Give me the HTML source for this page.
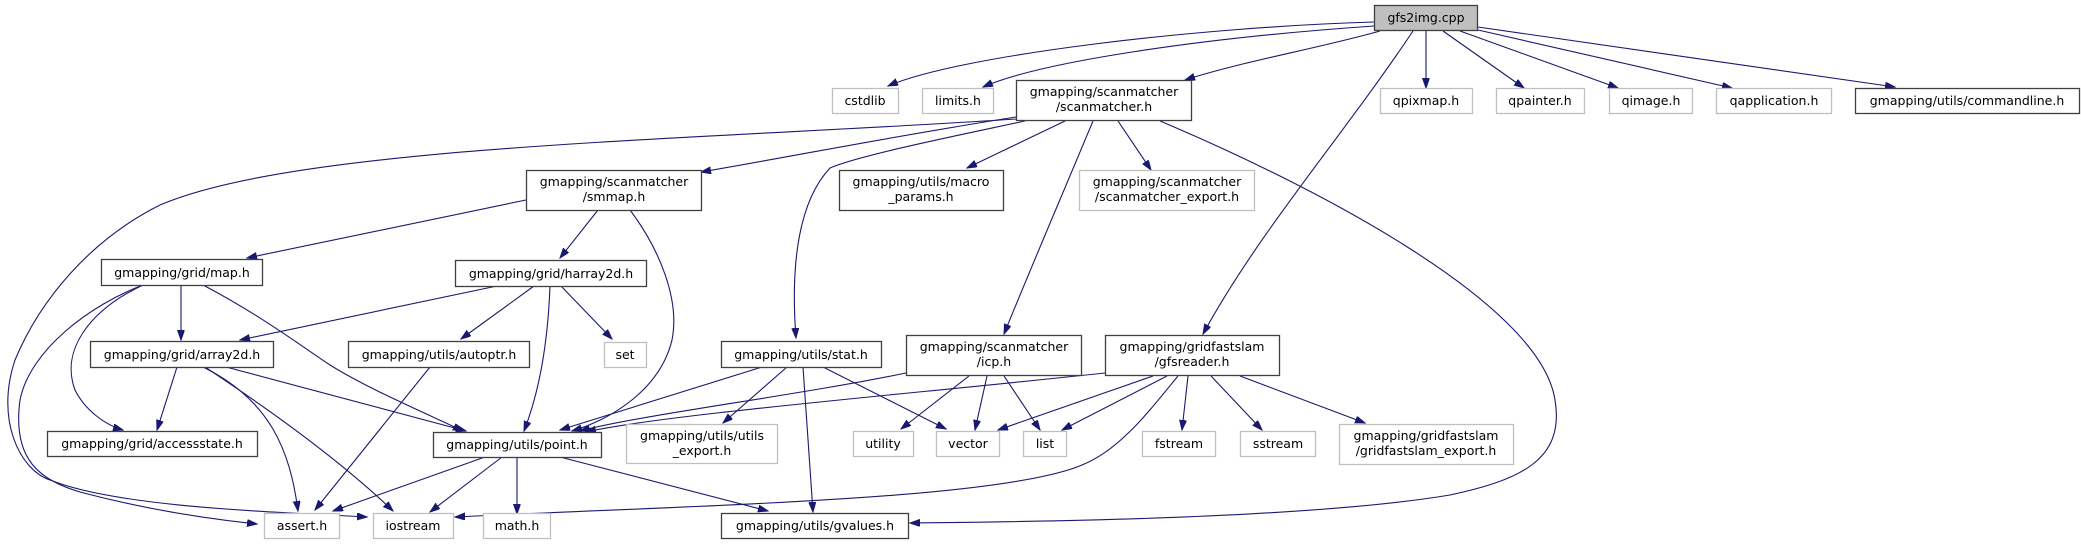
<!DOCTYPE html>
<html><head><meta charset="utf-8"><style>
html,body{margin:0;padding:0;background:#fff;}
svg{display:block;}
text{font-family:"DejaVu Sans","Liberation Sans",sans-serif;font-size:12.5px;fill:#000;text-anchor:middle;}
.b{fill:#fff;stroke:#404040;stroke-width:1.3;}
.g{fill:#fff;stroke:#bfbfbf;stroke-width:1.3;}
.e{fill:none;stroke:#191970;stroke-width:1.1;marker-end:url(#a);}
</style></head><body>
<svg width="2081" height="544" viewBox="0 0 2081 544" xmlns="http://www.w3.org/2000/svg">
<defs><marker id="a" markerUnits="userSpaceOnUse" markerWidth="11" markerHeight="8" refX="10" refY="3.5" orient="auto"><path d="M0,0 L10,3.5 L0,7 z" fill="#191970" stroke="#191970"/></marker></defs>

<!-- edges -->
<path class="e" d="M1374,22 C1200,27 960,55 888,86"/>
<path class="e" d="M1374,26 C1200,38 1040,62 983,87"/>
<path class="e" d="M1380,31 C1320,48 1240,62 1185,80"/>
<path class="e" d="M1413,31 C1340,140 1260,230 1203,334"/>
<path class="e" d="M1426,31 L1426,88"/>
<path class="e" d="M1443,31 L1524,88"/>
<path class="e" d="M1460,31 L1618,88"/>
<path class="e" d="M1478,30 L1732,88"/>
<path class="e" d="M1478,27 L1895,87"/>

<path class="e" d="M1016,119 C700,140 300,145 160,205 C90,240 40,300 15,360 C-5,420 20,470 50,480 C120,508 280,512 367,517"/>
<path class="e" d="M143,285 C90,305 30,350 20,400 C12,460 40,480 80,492 C140,508 200,518 257,524"/>
<path class="e" d="M1016,117 C900,135 800,155 701,172"/>
<path class="e" d="M1025,121 C960,135 860,155 830,168 C800,200 790,260 796,338"/>
<path class="e" d="M1065,121 L967,168"/>
<path class="e" d="M1093,121 C1060,200 1030,270 1004,334"/>
<path class="e" d="M1118,121 L1151,170"/>
<path class="e" d="M1160,121 C1300,180 1540,300 1555,400 C1565,460 1520,480 1450,495 C1300,520 1000,522 910,523"/>

<path class="e" d="M526,200 L247,258"/>
<path class="e" d="M598,210 L560,258"/>
<path class="e" d="M630,210 C660,250 680,300 672,340 C660,390 610,420 572,431"/>

<path class="e" d="M497,286 L240,340"/>
<path class="e" d="M534,286 L461,339"/>
<path class="e" d="M550,286 C548,340 540,390 524,431"/>
<path class="e" d="M561,286 L612,339"/>

<path class="e" d="M181,285 L181,340"/>
<path class="e" d="M203,285 C260,315 300,345 330,365 C370,390 430,415 463,431"/>
<path class="e" d="M143,285 C90,310 60,350 75,390 C85,410 105,425 123,430"/>

<path class="e" d="M177,367 L157,430"/>
<path class="e" d="M203,367 C270,400 290,450 298,511"/>
<path class="e" d="M205,367 C270,410 340,460 393,511"/>
<path class="e" d="M226,367 L466,431"/>
<path class="e" d="M430,367 L315,510"/>

<path class="e" d="M485,457 L333,511"/>
<path class="e" d="M502,457 L430,512"/>
<path class="e" d="M517,457 L517,514"/>
<path class="e" d="M560,457 L768,511"/>

<path class="e" d="M762,367 L560,430"/>
<path class="e" d="M787,367 L723,423"/>
<path class="e" d="M803,367 L813,512"/>
<path class="e" d="M823,367 L946,429"/>

<path class="e" d="M906,373 C800,395 640,415 580,431"/>
<path class="e" d="M969,376 L901,429"/>
<path class="e" d="M987,376 L975,430"/>
<path class="e" d="M1004,376 L1040,430"/>

<path class="e" d="M1105,373 C900,395 660,415 586,432"/>
<path class="e" d="M1153,376 L998,430"/>
<path class="e" d="M1167,376 L1062,430"/>
<path class="e" d="M1178,376 C1150,410 1120,450 1082,465 C1000,500 700,505 455,517"/>
<path class="e" d="M1188,376 L1182,430"/>
<path class="e" d="M1211,376 L1262,430"/>
<path class="e" d="M1240,376 L1365,423"/>

<!-- nodes -->
<rect x="1374.5" y="5.5" width="103" height="25" fill="#bfbfbf" stroke="#404040" stroke-width="1.3"/><text x="1426" y="22">gfs2img.cpp</text>

<rect class="g" x="832.5" y="88.5" width="66" height="25"/><text x="865" y="105">cstdlib</text>
<rect class="g" x="922.5" y="88.5" width="71" height="25"/><text x="958" y="105">limits.h</text>
<rect class="b" x="1016.5" y="80.5" width="175" height="40"/><text x="1104" y="96">gmapping/scanmatcher</text><text x="1104" y="111">/scanmatcher.h</text>
<rect class="g" x="1380.5" y="88.5" width="92" height="25"/><text x="1426" y="105">qpixmap.h</text>
<rect class="g" x="1496.5" y="88.5" width="88" height="25"/><text x="1540" y="105">qpainter.h</text>
<rect class="g" x="1609.5" y="88.5" width="83" height="25"/><text x="1651" y="105">qimage.h</text>
<rect class="g" x="1716.5" y="88.5" width="115" height="25"/><text x="1774" y="105">qapplication.h</text>
<rect class="b" x="1855.5" y="88.5" width="224" height="25"/><text x="1967" y="105">gmapping/utils/commandline.h</text>

<rect class="b" x="526.5" y="170.5" width="175" height="40"/><text x="614" y="186">gmapping/scanmatcher</text><text x="614" y="201">/smmap.h</text>
<rect class="b" x="839.5" y="170.5" width="164" height="40"/><text x="921" y="186">gmapping/utils/macro</text><text x="921" y="201">_params.h</text>
<rect class="g" x="1079.5" y="170.5" width="175" height="40"/><text x="1167" y="186">gmapping/scanmatcher</text><text x="1167" y="201">/scanmatcher_export.h</text>

<rect class="b" x="101.5" y="259.5" width="161" height="26"/><text x="182" y="277">gmapping/grid/map.h</text>
<rect class="b" x="455.5" y="260.5" width="191" height="26"/><text x="551" y="278">gmapping/grid/harray2d.h</text>

<rect class="b" x="90.5" y="341.5" width="183" height="26"/><text x="182" y="359">gmapping/grid/array2d.h</text>
<rect class="b" x="348.5" y="341.5" width="181" height="26"/><text x="439" y="359">gmapping/utils/autoptr.h</text>
<rect class="g" x="604.5" y="342.5" width="42" height="25"/><text x="625" y="359">set</text>
<rect class="b" x="721.5" y="341.5" width="160" height="26"/><text x="801" y="359">gmapping/utils/stat.h</text>
<rect class="b" x="906.5" y="335.5" width="175" height="40"/><text x="994" y="351">gmapping/scanmatcher</text><text x="994" y="366">/icp.h</text>
<rect class="b" x="1105.5" y="335.5" width="174" height="40"/><text x="1192" y="351">gmapping/gridfastslam</text><text x="1192" y="366">/gfsreader.h</text>

<rect class="b" x="47.5" y="431.5" width="210" height="25"/><text x="152" y="448">gmapping/grid/accessstate.h</text>
<rect class="b" x="433.5" y="432.5" width="168" height="25"/><text x="517" y="449">gmapping/utils/point.h</text>
<rect class="g" x="626.5" y="424.5" width="151" height="39"/><text x="702" y="440">gmapping/utils/utils</text><text x="702" y="455">_export.h</text>
<rect class="g" x="853.5" y="431.5" width="60" height="25"/><text x="883" y="448">utility</text>
<rect class="g" x="936.5" y="431.5" width="63" height="25"/><text x="968" y="448">vector</text>
<rect class="g" x="1023.5" y="431.5" width="43" height="25"/><text x="1045" y="448">list</text>
<rect class="g" x="1142.5" y="431.5" width="73" height="25"/><text x="1179" y="448">fstream</text>
<rect class="g" x="1240.5" y="431.5" width="75" height="25"/><text x="1278" y="448">sstream</text>
<rect class="g" x="1339.5" y="424.5" width="174" height="40"/><text x="1426" y="440">gmapping/gridfastslam</text><text x="1426" y="455">/gridfastslam_export.h</text>

<rect class="g" x="264.5" y="513.5" width="75" height="25"/><text x="302" y="530">assert.h</text>
<rect class="g" x="373.5" y="513.5" width="80" height="25"/><text x="413" y="530">iostream</text>
<rect class="g" x="483.5" y="513.5" width="67" height="25"/><text x="517" y="530">math.h</text>
<rect class="b" x="721.5" y="513.5" width="187" height="25"/><text x="815" y="530">gmapping/utils/gvalues.h</text>
</svg>
</body></html>
